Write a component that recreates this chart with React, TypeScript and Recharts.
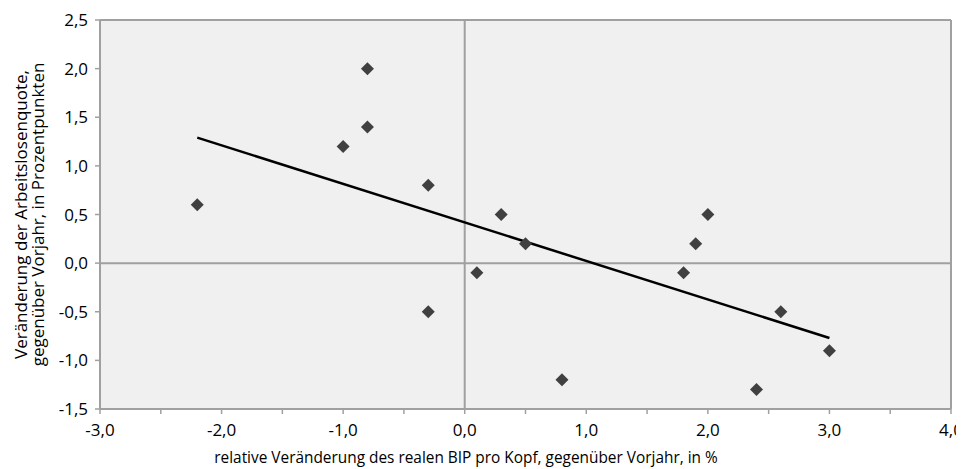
import { ScatterChart, Scatter, XAxis, YAxis, ReferenceLine, CartesianGrid, Label } from 'recharts';

// BIP-Veränderung (x) vs. Veränderung der Arbeitslosenquote (y)
const bipChange = [-2.2, -1.0, -0.8, -0.8, -0.3, -0.3, 0.1, 0.3, 0.5, 0.8, 1.8, 1.9, 2.0, 2.4, 2.6, 3.0];
const alqChange = [0.6, 1.2, 2.0, 1.4, 0.8, -0.5, -0.1, 0.5, 0.2, -1.2, -0.1, 0.2, 0.5, -1.3, -0.5, -0.9];

const trendX = [-2.2, 3.0];
const trendY = [1.29, -0.77];

const xTicks = [-3, -2.5, -2, -1.5, -1, -0.5, 0, 0.5, 1, 1.5, 2, 2.5, 3, 3.5, 4];
const yTicks = [-1.5, -1, -0.5, 0, 0.5, 1, 1.5, 2, 2.5];

const data = bipChange.map((x, i) => ({ x, y: alqChange[i] }));

const axisGrey = '#a0a0a0';
const font = '"Open Sans", sans-serif';
const tickFont = { fill: '#000', fontSize: 17, fontFamily: font };

const fmt = (v: number) => v.toFixed(1).replace('.', ',');

const Diamond = (props: any) => {
  const { cx, cy } = props;
  const r = 6.5;
  return <polygon points={`${cx},${cy - r} ${cx + r},${cy} ${cx},${cy + r} ${cx - r},${cy}`} fill="#404040" />;
};

const YTitle = (props: any) => {
  const vb = props.viewBox;
  const cy = vb.y + vb.height / 2;
  const lines = ['Veränderung der Arbeitslosenquote,', 'gegenüber Vorjahr, in Prozentpunkten'];
  return (
    <g>
      {lines.map((t, i) => {
        const cx = 12 + i * 17;
        return (
          <text
            key={i}
            x={cx}
            y={cy}
            transform={`rotate(-90, ${cx}, ${cy})`}
            textAnchor="middle"
            dominantBaseline="central"
            fontSize={17}
            fontFamily={font}
            fill="#000"
          >
            {t}
          </text>
        );
      })}
    </g>
  );
};

const XTitle = () => (
  <text x={458} y={449} textAnchor="middle" dominantBaseline="central" fontSize={15.4} fontFamily={font} fill="#000">
    relative Veränderung des realen BIP pro Kopf, gegenüber Vorjahr, in %
  </text>
);

export default function App() {
  return (
    <ScatterChart width={956} height={461} margin={{ top: 12, right: 13, bottom: 0, left: 0 }}>
      <CartesianGrid horizontal={false} vertical={false} fill="#f0f0f0" />
      <XAxis
        type="number"
        dataKey="x"
        domain={[-3, 4]}
        ticks={xTicks}
        interval={0}
        tickFormatter={(v: number) => (Number.isInteger(v) ? fmt(v) : '')}
        height={60}
        tick={tickFont}
        tickSize={5}
        tickMargin={10}
        axisLine={{ stroke: axisGrey, strokeWidth: 2 }}
        tickLine={{ stroke: axisGrey, strokeWidth: 1.5 }}
      >
        <Label content={<XTitle />} />
      </XAxis>
      <YAxis
        type="number"
        dataKey="y"
        domain={[-1.5, 2.5]}
        ticks={yTicks}
        interval={0}
        tickFormatter={fmt}
        width={92}
        tick={tickFont}
        tickSize={5}
        tickMargin={7}
        axisLine={{ stroke: axisGrey, strokeWidth: 2 }}
        tickLine={{ stroke: axisGrey, strokeWidth: 1.5 }}
      >
        <Label content={<YTitle />} />
      </YAxis>
      <ReferenceLine y={2.5} stroke={axisGrey} strokeWidth={2} />
      <ReferenceLine x={4} stroke={axisGrey} strokeWidth={2} />
      <ReferenceLine y={0} stroke={axisGrey} strokeWidth={2} />
      <ReferenceLine x={0} stroke={axisGrey} strokeWidth={2} />
      <ReferenceLine
        segment={[
          { x: trendX[0], y: trendY[0] },
          { x: trendX[1], y: trendY[1] },
        ]}
        stroke="#000"
        strokeWidth={2.5}
      />
      <Scatter data={data} shape={<Diamond />} isAnimationActive={false} />
    </ScatterChart>
  );
}
